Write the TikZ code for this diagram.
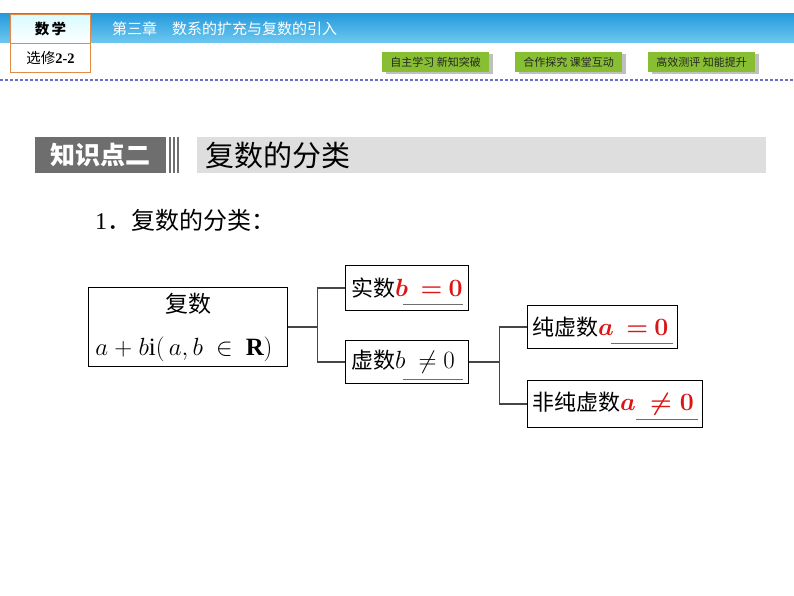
\documentclass[tikz,border=0pt]{standalone}
\usepackage{fontspec}
\setmainfont{Liberation Serif}
\newfontfamily\cjk{Noto Sans CJK SC}
\usetikzlibrary{calc}
\definecolor{barblue}{RGB}{40,155,220}
\definecolor{barlight}{RGB}{110,200,240}
\definecolor{orangeb}{RGB}{225,140,70}
\definecolor{btngreen}{RGB}{135,190,50}
\definecolor{dashc}{RGB}{110,110,200}
\definecolor{hdark}{RGB}{110,110,110}
\definecolor{hlight}{RGB}{222,222,222}
\definecolor{conn}{RGB}{70,70,70}
\definecolor{ansred}{RGB}{220,20,20}
\definecolor{ulgray}{RGB}{110,110,110}
\newcommand{\mymathsize}{\fontsize{24.88}{28}\selectfont}
\tikzset{
  box/.style={draw=black, line width=1.3pt, anchor=north west, inner sep=0pt},
  lbl/.style={anchor=west, inner sep=0pt, font=\fontsize{22}{26}\selectfont},
  link/.style={draw=conn, line width=1.4pt},
  uline/.style={draw=ulgray, line width=1.4pt},
  btn/.style={fill=btngreen, anchor=north west, minimum width=107pt, minimum height=20pt, inner sep=0pt, font=\cjk\fontsize{11}{12}\selectfont, text=black!85},
  shadowc/.style={fill=black!25},
}
\begin{document}
\begin{tikzpicture}[x=1pt,y=-1pt]
\useasboundingbox[fill=white] (0,0) rectangle (794,596);
% top bar
\shade[top color=barblue, bottom color=barlight] (0,14) rectangle (794,43);
\node[draw=orangeb, line width=1pt, top color=blue!10!cyan!15, bottom color=white, anchor=north west, minimum width=80pt, minimum height=29pt, inner sep=0pt, font=\cjk\bfseries\fontsize{14.5}{16}\selectfont] (subj) at (10,14) {数\,学};
\node[draw=orangeb, line width=1pt, fill=white, anchor=north west, minimum width=80pt, minimum height=29pt, inner sep=0pt, font=\fontsize{14.5}{16}\selectfont] (sel) at (10,43) {{\cjk 选修}\textbf{2-2}};
\node[anchor=west, inner sep=0pt, text=white, font=\cjk\fontsize{15}{16}\selectfont] (chap) at (112,29) {第三章\hspace{1em}数系的扩充与复数的引入};
% buttons
\fill[shadowc] (386,54) rectangle ++(107,20);
\node[btn] (b1) at (382,52) {自主学习 新知突破};
\fill[shadowc] (519,54) rectangle ++(107,20);
\node[btn] (b2) at (515,52) {合作探究 课堂互动};
\fill[shadowc] (652,54) rectangle ++(107,20);
\node[btn] (b3) at (648,52) {高效测评 知能提升};
\draw[dashc, line width=1.2pt, dash pattern=on 3pt off 2pt] (0,80) -- (794,80);
% section header
\node[fill=hdark, anchor=north west, minimum width=131pt, minimum height=36pt, inner sep=0pt, text=white, font=\cjk\bfseries\fontsize{25}{28}\selectfont] (kp) at (35,137) {知识点二};
\draw[hdark, line width=1.2pt] (170,137) -- (170,173) (174,137) -- (174,173) (178,137) -- (178,173);
\fill[hlight] (197,137) rectangle (766,173);
\node[anchor=west, inner sep=0pt, font=\cjk\fontsize{29}{31}\selectfont] (httext) at (205,155) {复数的分类};
\node[anchor=west, inner sep=0pt, font=\fontsize{24}{28}\selectfont] (item) at (95,220) {1{\cjk ．复数的分类：}};
% boxes
\node[box, minimum width=199pt, minimum height=79pt] (fs) at (88,287) {};
\node[inner sep=0pt, font=\cjk\fontsize{23}{26}\selectfont] (fst) at (188,304) {复数};
\node[inner sep=0pt, font=\mymathsize] (fsm) at (184,349) {$a\ \mathbf{+}\ b\mathrm{i}(\,a,b\ \in\ \mathbf{R})$};
\node[box, minimum width=123pt, minimum height=45pt] (ss) at (345,265) {};
\node[lbl] (sst) at (351,288) {{\cjk 实数}{\mymathsize\color{ansred}\boldmath$b\ \ \mathbf{=}\ 0$}};
\node[box, minimum width=123pt, minimum height=43pt] (xs) at (345,340) {};
\node[lbl] (xst) at (351,362) {{\cjk 虚数}{\mymathsize$b\ \neq 0$}};
\node[box, minimum width=150pt, minimum height=43pt] (cx) at (527,305) {};
\node[lbl] (cxt) at (532,327) {{\cjk 纯虚数}{\mymathsize\color{ansred}\boldmath$a\ \ \mathbf{=}\ 0$}};
\node[box, minimum width=175pt, minimum height=47pt] (fc) at (527,380) {};
\node[lbl] (fct) at (532,404) {{\cjk 非纯虚数}{\mymathsize\color{ansred}\boldmath$a\ \neq 0$}};
% underlines
\draw[uline] ($(ss.south east)+(-66,-7)$) -- ($(ss.south east)+(-6,-7)$);
\draw[uline] ($(xs.south east)+(-66,-5)$) -- ($(xs.south east)+(-6,-5)$);
\draw[uline] ($(cx.south east)+(-67,-6)$) -- ($(cx.south east)+(-5,-6)$);
\draw[uline] ($(fc.south east)+(-67,-9)$) -- ($(fc.south east)+(-5,-9)$);
% connectors
\draw[link] (fs.east) -- ++(29,0) |- (ss.west);
\draw[link] (fs.east) -- ++(29,0) |- (xs.west);
\draw[link] (xs.east) -- ++(30,0) |- (cx.west);
\draw[link] (xs.east) -- ++(30,0) |- (fc.west);
\end{tikzpicture}
\end{document}
